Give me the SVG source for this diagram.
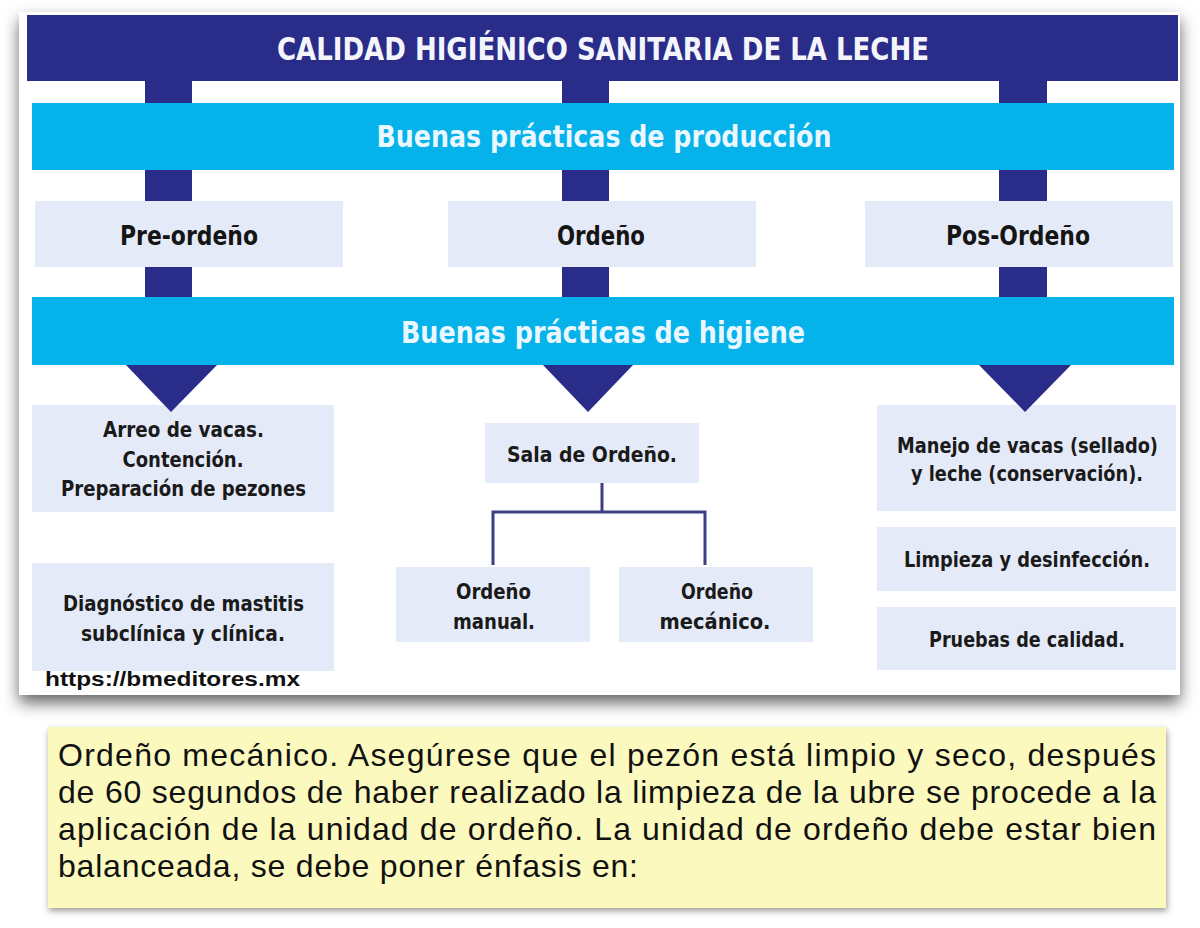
<svg xmlns="http://www.w3.org/2000/svg" width="1200" height="928" viewBox="0 0 1200 928">
  <defs>
    <filter id="panelShadow" x="-5%" y="-5%" width="110%" height="115%">
      <feDropShadow dx="0" dy="8" stdDeviation="8" flood-color="#000" flood-opacity="0.6"/>
    </filter>
    <filter id="noteShadow" x="-3%" y="-10%" width="106%" height="125%">
      <feDropShadow dx="1" dy="3" stdDeviation="3" flood-color="#000" flood-opacity="0.4"/>
    </filter>
    <style>
      .navy { fill: #2a2c89; }
      .band { fill: #05b2ea; }
      .box { fill: #e5eaf8; }
      .cond { font-family: "Liberation Sans Narrow", "DejaVu Sans Condensed", "Liberation Sans", sans-serif; font-weight: bold; text-anchor: middle; }
      .title { fill: #f4f5fb; font-size: 32px; }
      .bandtxt { fill: #eaf7ff; font-size: 31px; }
      .h2 { fill: #151515; font-size: 27px; }
      .lbl { fill: #1a1a1a; font-size: 22px; }
      .tree { fill: none; stroke: #3d3f86; stroke-width: 3; }
      .note { font-family: "Liberation Sans", Arial, sans-serif; font-size: 32px; fill: #111; }
      .url { font-family: "Liberation Sans", Arial, sans-serif; font-weight: bold; font-size: 21px; fill: #111; }
    </style>
  </defs>

  <rect x="0" y="0" width="1200" height="928" fill="#ffffff"/>

  <!-- main panel -->
  <rect x="19" y="12" width="1161" height="683" fill="#ffffff" filter="url(#panelShadow)"/>

  <!-- connectors -->
  <g id="connectors">
    <rect class="navy" x="145" y="80" width="47" height="220"/>
    <rect class="navy" x="562" y="80" width="47" height="220"/>
    <rect class="navy" x="999" y="80" width="48" height="220"/>
    <polyline class="tree" points="602,483 602,512"/>
    <polyline class="tree" points="493,565 493,512 705,512 705,565"/>
  </g>

  <g id="title">
    <rect class="navy" x="27" y="15" width="1151" height="66"/>
    <text class="cond title" x="603" y="60" textLength="652" lengthAdjust="spacingAndGlyphs">CALIDAD HIGIÉNICO SANITARIA DE LA LECHE</text>
  </g>

  <g id="bp-produccion">
    <rect class="band" x="32" y="103" width="1142" height="67"/>
    <text class="cond bandtxt" x="604" y="147" textLength="455" lengthAdjust="spacingAndGlyphs">Buenas prácticas de producción</text>
  </g>

  <g id="pre-ordeno">
    <rect class="box" x="35" y="201" width="308" height="66"/>
    <text class="cond h2" x="189" y="245" textLength="138" lengthAdjust="spacingAndGlyphs">Pre-ordeño</text>
  </g>
  <g id="ordeno">
    <rect class="box" x="448" y="201" width="308" height="66"/>
    <text class="cond h2" x="601" y="245" textLength="88" lengthAdjust="spacingAndGlyphs">Ordeño</text>
  </g>
  <g id="pos-ordeno">
    <rect class="box" x="865" y="201" width="308" height="66"/>
    <text class="cond h2" x="1018" y="245" textLength="144" lengthAdjust="spacingAndGlyphs">Pos-Ordeño</text>
  </g>

  <g id="bp-higiene">
    <rect class="band" x="32" y="297" width="1142" height="68"/>
    <text class="cond bandtxt" x="603" y="343" textLength="404" lengthAdjust="spacingAndGlyphs">Buenas prácticas de higiene</text>
  </g>

  <g id="arreo">
    <rect class="box" x="32" y="405" width="302" height="107"/>
    <text class="cond lbl" x="183.5" y="437" textLength="161" lengthAdjust="spacingAndGlyphs">Arreo de vacas.</text>
    <text class="cond lbl" x="183" y="467" textLength="121" lengthAdjust="spacingAndGlyphs">Contención.</text>
    <text class="cond lbl" x="183.5" y="496" textLength="245" lengthAdjust="spacingAndGlyphs">Preparación de pezones</text>
  </g>
  <g id="diagnostico">
    <rect class="box" x="32" y="563" width="302" height="108"/>
    <text class="cond lbl" x="183.5" y="611" textLength="241" lengthAdjust="spacingAndGlyphs">Diagnóstico de mastitis</text>
    <text class="cond lbl" x="183" y="641" textLength="204" lengthAdjust="spacingAndGlyphs">subclínica y clínica.</text>
  </g>

  <g id="sala">
    <rect class="box" x="485" y="423" width="214" height="60"/>
    <text class="cond lbl" x="592" y="462" textLength="170" lengthAdjust="spacingAndGlyphs">Sala de Ordeño.</text>
  </g>
  <g id="manual">
    <rect class="box" x="396" y="567" width="194" height="75"/>
    <text class="cond lbl" x="493.5" y="599" textLength="75" lengthAdjust="spacingAndGlyphs">Ordeño</text>
    <text class="cond lbl" x="494" y="629" textLength="82" lengthAdjust="spacingAndGlyphs">manual.</text>
  </g>
  <g id="mecanico">
    <rect class="box" x="619" y="567" width="194" height="75"/>
    <text class="cond lbl" x="717" y="599" textLength="72" lengthAdjust="spacingAndGlyphs">Ordeño</text>
    <text class="cond lbl" x="715" y="629" textLength="111" lengthAdjust="spacingAndGlyphs">mecánico.</text>
  </g>

  <g id="manejo">
    <rect class="box" x="877" y="405" width="299" height="106"/>
    <text class="cond lbl" x="1027.5" y="453" textLength="261" lengthAdjust="spacingAndGlyphs">Manejo de vacas (sellado)</text>
    <text class="cond lbl" x="1027" y="481" textLength="232" lengthAdjust="spacingAndGlyphs">y leche (conservación).</text>
  </g>
  <g id="limpieza">
    <rect class="box" x="877" y="527" width="299" height="64"/>
    <text class="cond lbl" x="1027" y="567" textLength="246" lengthAdjust="spacingAndGlyphs">Limpieza y desinfección.</text>
  </g>
  <g id="pruebas">
    <rect class="box" x="877" y="607" width="299" height="63"/>
    <text class="cond lbl" x="1027" y="647" textLength="196" lengthAdjust="spacingAndGlyphs">Pruebas de calidad.</text>
  </g>

  <g id="arrowheads">
    <polygon class="navy" points="126,365 217,365 171,412"/>
    <polygon class="navy" points="543,365 633,365 588,412"/>
    <polygon class="navy" points="979,365 1071,365 1025,412"/>
  </g>

  <g id="url">
    <text class="url" x="45" y="686" textLength="255" lengthAdjust="spacingAndGlyphs">https://bmeditores.mx</text>
  </g>

  <g id="nota">
    <rect x="48" y="727" width="1118" height="181" fill="#fcf9bf" filter="url(#noteShadow)"/>
    <text class="note" x="58" y="766" textLength="1098" lengthAdjust="spacing">Ordeño mecánico. Asegúrese que el pezón está limpio y seco, después</text>
    <text class="note" x="58" y="803" textLength="1098" lengthAdjust="spacing">de 60 segundos de haber realizado la limpieza de la ubre se procede a la</text>
    <text class="note" x="58" y="840" textLength="1098" lengthAdjust="spacing">aplicación de la unidad de ordeño. La unidad de ordeño debe estar bien</text>
    <text class="note" x="58" y="877" textLength="580" lengthAdjust="spacing">balanceada, se debe poner énfasis en:</text>
  </g>
</svg>
